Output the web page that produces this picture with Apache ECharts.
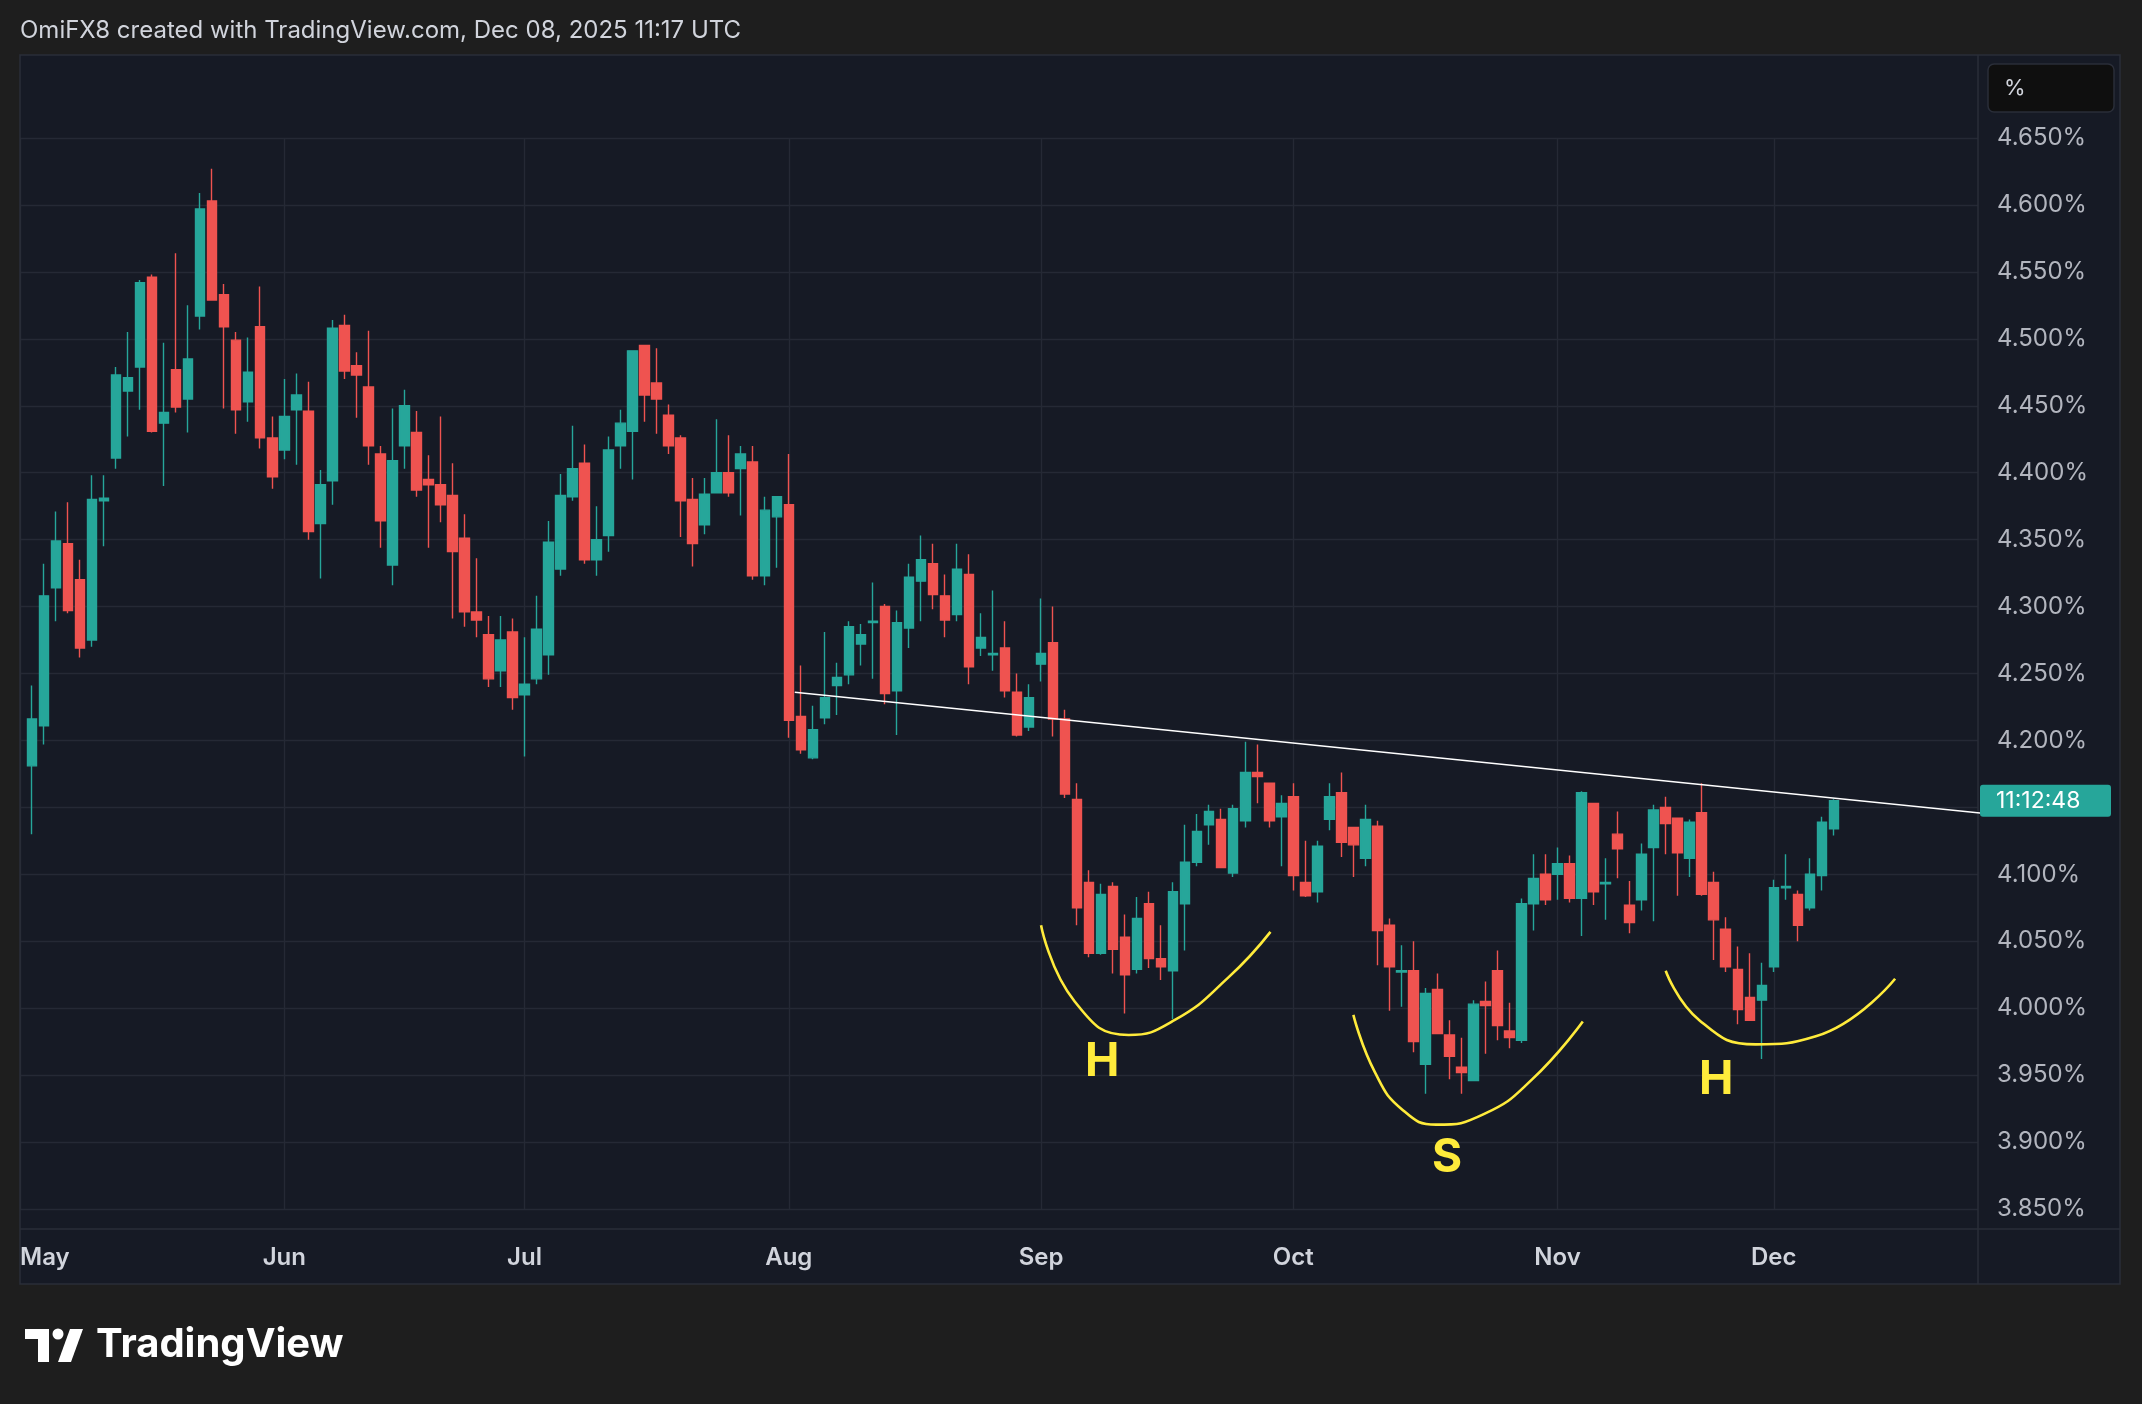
<!DOCTYPE html>
<html><head><meta charset="utf-8">
<script src="https://cdn.jsdelivr.net/npm/echarts@6/dist/echarts.min.js"></script>
<style>html,body{margin:0;padding:0;background:#1e1e1e}#c{width:2142px;height:1404px}</style>
</head><body><div id="c"></div>
<script>
// Trading calendar
const startDate = '2025-05-01', endDate = '2025-12-08';
const holidays = ['2025-05-26','2025-06-19','2025-07-04','2025-09-01','2025-10-13','2025-11-11','2025-11-27'];
const leadCategory = '2025-04-30';
const futureSlots = 12;
const monthStarts = ['2025-04-30','2025-06-02','2025-07-01','2025-08-01','2025-09-02','2025-10-01','2025-11-03','2025-12-01'];
const monthNames = ['May','Jun','Jul','Aug','Sep','Oct','Nov','Dec'];
const yTicks = [3.85, 4.65, 0.05]; // min, max, step

// OHLC (%), one per trading day May 1 .. Dec 8, 2025
const opens = [4.181,4.211,4.314,4.347,4.320,4.275,4.379,4.411,4.461,4.479,4.546,4.437,4.477,4.455,4.517,4.603,4.533,4.499,4.453,4.509,4.426,4.417,4.447,4.446,4.362,4.394,4.510,4.480,4.464,4.414,4.331,4.420,4.430,4.395,4.391,4.383,4.351,4.296,4.279,4.252,4.281,4.234,4.246,4.264,4.328,4.382,4.407,4.335,4.353,4.420,4.431,4.495,4.467,4.443,4.426,4.380,4.361,4.385,4.400,4.403,4.408,4.323,4.367,4.376,4.218,4.187,4.217,4.241,4.249,4.272,4.288,4.300,4.237,4.284,4.319,4.332,4.308,4.294,4.324,4.269,4.264,4.269,4.236,4.210,4.257,4.273,4.216,4.156,4.094,4.041,4.091,4.053,4.029,4.078,4.037,4.028,4.078,4.109,4.137,4.141,4.101,4.140,4.176,4.168,4.143,4.158,4.094,4.087,4.141,4.161,4.135,4.112,4.136,4.062,4.027,4.028,3.958,4.014,3.980,3.956,3.946,4.005,4.028,3.983,3.976,4.078,4.100,4.100,4.108,4.082,4.153,4.093,4.130,4.077,4.081,4.120,4.150,4.142,4.112,4.146,4.094,4.059,4.029,4.008,4.006,4.031,4.090,4.085,4.075,4.099,4.134];
const highs = [4.241,4.332,4.371,4.378,4.335,4.398,4.398,4.479,4.505,4.544,4.548,4.497,4.564,4.525,4.609,4.627,4.541,4.505,4.501,4.539,4.442,4.470,4.474,4.468,4.402,4.514,4.518,4.490,4.506,4.420,4.448,4.462,4.446,4.413,4.442,4.407,4.369,4.336,4.293,4.293,4.291,4.277,4.308,4.364,4.399,4.435,4.421,4.375,4.427,4.447,4.491,4.495,4.493,4.451,4.428,4.396,4.396,4.440,4.428,4.420,4.420,4.382,4.382,4.414,4.256,4.226,4.281,4.258,4.289,4.287,4.318,4.302,4.297,4.332,4.353,4.347,4.324,4.347,4.339,4.295,4.312,4.289,4.250,4.242,4.306,4.300,4.223,4.168,4.103,4.093,4.094,4.070,4.083,4.087,4.062,4.094,4.137,4.145,4.152,4.149,4.152,4.199,4.197,4.168,4.159,4.168,4.125,4.125,4.168,4.176,4.135,4.152,4.140,4.067,4.047,4.050,4.015,4.026,3.991,3.978,4.006,4.020,4.043,4.004,4.082,4.115,4.115,4.120,4.114,4.162,4.153,4.112,4.147,4.095,4.123,4.152,4.158,4.142,4.141,4.168,4.102,4.068,4.046,4.041,4.034,4.096,4.115,4.088,4.112,4.143,4.156];
const lows = [4.130,4.197,4.289,4.295,4.262,4.270,4.345,4.403,4.427,4.447,4.430,4.390,4.445,4.430,4.507,4.529,4.448,4.429,4.438,4.418,4.388,4.410,4.406,4.350,4.321,4.376,4.470,4.441,4.406,4.344,4.316,4.403,4.382,4.344,4.363,4.291,4.285,4.277,4.240,4.240,4.223,4.188,4.242,4.249,4.323,4.379,4.332,4.323,4.341,4.403,4.395,4.438,4.429,4.414,4.352,4.330,4.354,4.385,4.382,4.368,4.320,4.316,4.329,4.202,4.190,4.186,4.212,4.219,4.242,4.256,4.246,4.227,4.204,4.269,4.289,4.298,4.277,4.289,4.242,4.263,4.252,4.232,4.203,4.207,4.244,4.203,4.157,4.062,4.038,4.040,4.026,3.996,4.026,4.030,4.021,3.992,4.043,4.106,4.122,4.105,4.098,4.135,4.153,4.135,4.106,4.088,4.083,4.079,4.133,4.113,4.098,4.106,4.032,3.998,4.001,3.967,3.936,3.981,3.947,3.936,3.946,3.966,3.976,3.970,3.974,4.058,4.077,4.081,4.079,4.054,4.077,4.066,4.097,4.056,4.073,4.065,4.115,4.084,4.098,4.084,4.036,4.027,3.988,3.991,3.962,4.027,4.081,4.050,4.073,4.088,4.129];
const closes = [4.216,4.308,4.349,4.297,4.269,4.380,4.381,4.473,4.471,4.542,4.431,4.445,4.449,4.485,4.597,4.529,4.509,4.447,4.475,4.426,4.397,4.442,4.458,4.356,4.391,4.508,4.476,4.473,4.420,4.364,4.409,4.450,4.387,4.391,4.376,4.341,4.296,4.290,4.246,4.275,4.232,4.242,4.283,4.348,4.383,4.403,4.335,4.350,4.417,4.437,4.491,4.458,4.455,4.420,4.379,4.347,4.384,4.400,4.385,4.414,4.323,4.372,4.382,4.215,4.193,4.208,4.232,4.247,4.285,4.279,4.289,4.235,4.288,4.322,4.335,4.309,4.290,4.328,4.255,4.277,4.265,4.237,4.204,4.232,4.265,4.216,4.160,4.075,4.041,4.085,4.044,4.025,4.067,4.037,4.031,4.087,4.109,4.132,4.147,4.105,4.149,4.176,4.173,4.140,4.153,4.099,4.084,4.121,4.158,4.124,4.122,4.141,4.058,4.031,4.028,3.975,4.011,3.981,3.964,3.952,4.003,4.002,3.987,3.978,4.078,4.097,4.081,4.108,4.082,4.161,4.087,4.094,4.119,4.064,4.115,4.148,4.138,4.116,4.139,4.085,4.066,4.031,3.999,3.991,4.017,4.090,4.091,4.062,4.100,4.139,4.155];

// Annotations (slot index, %)
const necklineX = [64.5, 164];
const necklineY = [4.236, 4.145];
const leftHeadX = [85.0, 87.8, 92.3, 96.1, 100.6, 104.1];
const leftHeadY = [4.062, 4.005, 3.980, 3.991, 4.023, 4.057];
const headX = [111.0, 112.8, 115.1, 117.9, 121.9, 125.9, 130.1];
const headY = [3.995, 3.952, 3.924, 3.913, 3.921, 3.947, 3.990];
const rightHeadX = [137.0, 139.8, 144.5, 149.5, 156.1];
const rightHeadY = [4.028, 3.991, 3.973, 3.979, 4.022];
const letterNames = ['H', 'S', 'H'];
const letterX = [90.1, 118.8, 141.2];
const letterY = [3.960, 3.888, 3.946];
const lastTimeLabel = '11:12:48';
const titleText = 'OmiFX8 created with TradingView.com, Dec 08, 2025 11:17 UTC';

// build categories
function fmt(d){return d.toISOString().slice(0,10);}
const tradeDays = [];
for (let d = new Date(startDate+'T00:00:00Z'); fmt(d) <= endDate; d.setUTCDate(d.getUTCDate()+1)) {
  const wd = d.getUTCDay();
  if (wd === 0 || wd === 6) continue;
  if (holidays.includes(fmt(d))) continue;
  tradeDays.push(fmt(d));
}
const future = [];
{ const d = new Date(endDate+'T00:00:00Z');
  while (future.length < futureSlots) { d.setUTCDate(d.getUTCDate()+1); const wd=d.getUTCDay(); if (wd!==0&&wd!==6) future.push(fmt(d)); } }
const categories = [leadCategory].concat(tradeDays, future);
const candle = categories.map(c => {
  const i = tradeDays.indexOf(c);
  return i < 0 || i >= opens.length ? '-' : [opens[i], closes[i], lows[i], highs[i]];
});
const monthLabel = {}; monthStarts.forEach((m,k)=>monthLabel[m]=monthNames[k]);
const isMonth = (idx, val) => monthLabel[val] !== undefined;
const pairs = (xs, ys) => xs.map((x,k)=>[x, ys[k]]);

const GL = 20, GW = 1958, GT = 138, GH = 1071;
const chart = echarts.init(document.getElementById('c'));
const font = 'Inter, Roboto, sans-serif';
const option = {
  animation: false,
  backgroundColor: '#1e1e1e',
  textStyle: {fontFamily: font},
  grid: {left: GL, top: GT, width: GW, height: GH},
  xAxis: [{
    type: 'category', data: categories, boundaryGap: false,
    axisLine: {show: false}, axisTick: {show: false},
    axisLabel: {interval: isMonth, formatter: v => monthLabel[v] || '', color: '#d1d4dc', fontSize: 24, fontWeight: 600, margin: 37, alignMinLabel: 'left', showMinLabel: true},
    splitLine: {show: true, interval: isMonth, lineStyle: {color: '#252935', width: 1.4}}
  }, {
    type: 'value', min: 0, max: categories.length - 1, show: false
  }],
  yAxis: {
    type: 'value', position: 'right', min: yTicks[0], max: yTicks[1], interval: yTicks[2],
    axisLine: {show: false}, axisTick: {show: false},
    axisLabel: {formatter: v => v.toFixed(3) + '%', color: '#b2b5be', fontSize: 24, margin: 19, align: 'left'},
    splitLine: {lineStyle: {color: '#252935', width: 1.4}}
  },
  series: [{
    type: 'candlestick', data: candle, barWidth: 10,
    itemStyle: {color: '#26a69a', color0: '#ef5350', borderColor: '#26a69a', borderColor0: '#ef5350', borderWidth: 1.4}
  }, {
    type: 'line', xAxisIndex: 1, data: pairs(necklineX, necklineY), symbol: 'none',
    lineStyle: {color: '#ffffff', width: 1.6}
  }, ...[[leftHeadX,leftHeadY],[headX,headY],[rightHeadX,rightHeadY]].map(([xs,ys]) => ({
    type: 'line', xAxisIndex: 1, data: pairs(xs, ys), smooth: 0.5, symbol: 'none',
    lineStyle: {color: '#ffeb3b', width: 2.6}
  })), {
    type: 'scatter', xAxisIndex: 1, data: pairs(letterX, letterY), symbolSize: 1,
    itemStyle: {color: 'rgba(0,0,0,0)', opacity: 1},
    label: {show: true, position: 'inside', opacity: 1, formatter: p => letterNames[p.dataIndex], color: '#ffeb3b', fontSize: 46, fontWeight: 'bold', fontFamily: font}
  }]
};
chart.setOption(option);
const lastY = chart.convertToPixel({yAxisIndex: 0}, closes[closes.length-1]);
chart.setOption({graphic: [
  {type: 'rect', z: -10, shape: {x: 20, y: 55, width: 2100, height: 1229}, style: {fill: '#161a25'}},
  {type: 'line', shape: {x1: 1978, y1: 55, x2: 1978, y2: 1284}, style: {stroke: '#2a2e39', lineWidth: 1.5}},
  {type: 'line', shape: {x1: 20, y1: 1229, x2: 2120, y2: 1229}, style: {stroke: '#2a2e39', lineWidth: 1.5}},
  {type: 'rect', shape: {x: 20, y: 55, width: 2100, height: 1229}, style: {fill: 'none', stroke: '#2a2e39', lineWidth: 1.5}},
  {type: 'text', x: 20, y: 31, style: {text: titleText, fill: '#d1d4dc', fontSize: 24, fontFamily: font, verticalAlign: 'middle'}},
  {type: 'rect', shape: {x: 1988, y: 64, width: 126, height: 48, r: 6}, style: {fill: '#0f0f0f', stroke: '#2a2e39', lineWidth: 1.5}},
  {type: 'text', x: 2004, y: 88, style: {text: '%', fill: '#d1d4dc', fontSize: 22, fontFamily: font, verticalAlign: 'middle'}},
  {type: 'rect', z: 100, shape: {x: 1980, y: lastY - 16, width: 131, height: 32, r: 3}, style: {fill: '#26a69a'}},
  {type: 'text', z: 101, x: 1996, y: lastY, style: {text: lastTimeLabel, fill: '#ffffff', fontSize: 23, fontFamily: font, verticalAlign: 'middle'}},
  // logo
  {type: 'rect', shape: {x: 25, y: 1329, width: 24, height: 10}, style: {fill: '#ffffff'}},
  {type: 'rect', shape: {x: 38, y: 1329, width: 11, height: 33}, style: {fill: '#ffffff'}},
  {type: 'circle', shape: {cx: 58, cy: 1334, r: 5.5}, style: {fill: '#ffffff'}},
  {type: 'polygon', shape: {points: [[70,1329],[83,1329],[71,1362],[58,1362]]}, style: {fill: '#ffffff'}},
  {type: 'text', x: 96, y: 1345, style: {text: 'TradingView', fill: '#ffffff', fontSize: 40, fontWeight: 'bold', fontFamily: font, verticalAlign: 'middle'}}
]});
</script>
</body></html>
